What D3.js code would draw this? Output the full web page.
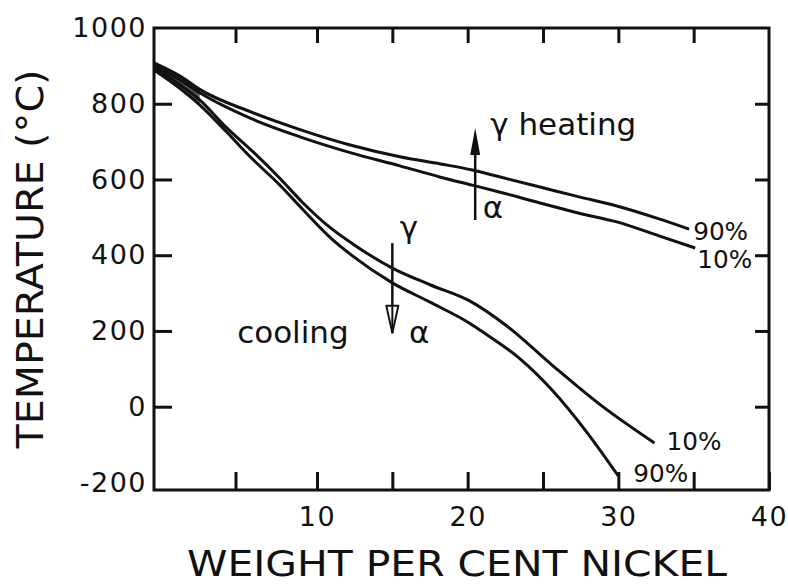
<!DOCTYPE html>
<html>
<head>
<meta charset="utf-8">
<script src="https://cdn.jsdelivr.net/npm/d3@7"></script>
<style>
  body { margin: 0; background: #fff; }
  text { font-family: "DejaVu Sans", sans-serif; fill: #111; }
</style>
</head>
<body>
<svg width="788" height="585"></svg>
<script>
// transformation temperatures of Fe-Ni alloys (10% / 90% transformed)
var heat90X = [0, 1.6, 2.8, 5.9, 9, 12.2, 15.5, 18.2, 20.3, 22.1, 24.8, 27.4, 29.9, 32.7, 34.7];
var heat90T = [908, 873, 838, 779, 731, 691, 660, 641, 625, 607, 580, 554, 530, 496, 469];
var heat10X = [0, 1.6, 2.8, 5.9, 9, 12.2, 15.5, 18.2, 20.3, 22.1, 24.8, 27.4, 29.9, 32.7, 35.1];
var heat10T = [902, 863, 829, 762, 712, 671, 636, 606, 585, 567, 538, 511, 488, 451, 419];
var cool10X = [0, 1.6, 2.8, 4.4, 6.1, 7.7, 9.1, 10.9, 12.4, 15, 17.5, 20.1, 22.6, 25.6, 28.9, 32.4];
var cool10T = [897, 850, 810, 739, 672, 604, 540, 472, 429, 366, 322, 280, 213, 110, 2, -96];
var cool90X = [0, 1.6, 2.8, 4.4, 5.9, 7.7, 9.1, 10.9, 12.4, 15, 17.5, 20.1, 21.2, 23.4, 25.6, 27.9, 30];
var cool90T = [889, 840, 797, 728, 660, 586, 522, 446, 397, 327, 276, 221, 192, 129, 44, -67, -183];

var xTicks = [5, 10, 15, 20, 25, 30, 35, 40];
var yTicks = [-200, 0, 200, 400, 600, 800, 1000];

// arrows: [wt% Ni, start T, tip T]
var heatArrow = [20.5, 493, 736];
var coolArrow = [15, 432, 195];

// notes: [text, wt% Ni, T at baseline]
var notes = [
  ["\u03b3 heating", 21.5, 717],
  ["\u03b1", 21.0, 497],
  ["\u03b3", 15.5, 446],
  ["\u03b1", 16.1, 168],
  ["cooling", 5.1, 168]
];

var svg = d3.select("svg");

// the scan is a little stretched near the origin, so two segments
var x = d3.scaleLinear().domain([0, 10, 40]).range([154, 317, 769]);
var y = d3.scaleLinear().domain([-220, 1000]).range([490, 28]);

function noDomain(g) {
  g.select(".domain").remove();
  g.selectAll("line").attr("stroke", "#111").attr("stroke-width", 3);
  g.selectAll("text").attr("font-size", 27).attr("letter-spacing", 1.5)
    .attr("font-family", "DejaVu Sans").attr("fill", "#111");
}

svg.append("g")
    .attr("transform", "translate(0," + y(-220) + ")")
    .call(d3.axisBottom(x).tickValues(xTicks).tickSize(-18).tickPadding(17)
      .tickFormat(function(d) { return d % 10 === 0 ? d : ""; }))
    .call(noDomain);

svg.append("g")
    .attr("transform", "translate(0," + y(1000) + ")")
    .call(d3.axisTop(x).tickValues(xTicks.slice(0, 7)).tickSize(-15).tickFormat(""))
    .call(noDomain);

var left = svg.append("g")
    .attr("transform", "translate(" + x(0) + ",0)")
    .call(d3.axisLeft(y).tickValues(yTicks).tickSize(-18).tickPadding(7)
      .tickFormat(function(d) { return String(d); }))
    .call(noDomain);
left.selectAll(".tick").filter(function(d) { return d === -200 || d === 1000; })
    .select("line").remove();

svg.append("g")
    .attr("transform", "translate(" + x(40) + ",0)")
    .call(d3.axisRight(y).tickValues([0, 200, 400, 600, 800]).tickSize(-14).tickFormat(""))
    .call(noDomain);

// frame
svg.append("rect")
    .attr("x", x(0)).attr("y", y(1000))
    .attr("width", x(40) - x(0)).attr("height", y(-220) - y(1000))
    .attr("fill", "none").attr("stroke", "#111").attr("stroke-width", 3);

// dark stipple where all four lines meet
var band = d3.range(3).map(function(i) { return [heat90X[i], heat90T[i], cool90T[i]]; });
svg.append("path")
    .datum(band)
    .attr("d", d3.area().x(function(d) { return x(d[0]); })
      .y0(function(d) { return y(d[2]); }).y1(function(d) { return y(d[1]); })
      .curve(d3.curveMonotoneX))
    .attr("fill", "#555");

var line = d3.line()
    .x(function(d) { return x(d[0]); })
    .y(function(d) { return y(d[1]); })
    .curve(d3.curveMonotoneX);

var series = [
  {name: "heat90", pts: d3.zip(heat90X, heat90T), label: "90%", dx: 4, dy: 11},
  {name: "heat10", pts: d3.zip(heat10X, heat10T), label: "10%", dx: 2, dy: 20},
  {name: "cool10", pts: d3.zip(cool10X, cool10T), label: "10%", dx: 12, dy: 7},
  {name: "cool90", pts: d3.zip(cool90X, cool90T), label: "90%", dx: 15, dy: 6}
];

svg.append("g").selectAll("path")
    .data(series)
  .enter().append("path")
    .attr("d", function(d) { return line(d.pts); })
    .attr("fill", "none")
    .attr("stroke", "#111")
    .attr("stroke-width", 3)
    .attr("stroke-linejoin", "round");

svg.append("g").selectAll("text")
    .data(series)
  .enter().append("text")
    .attr("x", function(d) { return x(d.pts[d.pts.length - 1][0]) + d.dx; })
    .attr("y", function(d) { return y(d.pts[d.pts.length - 1][1]) + d.dy; })
    .attr("font-size", 25)
    .attr("textLength", 55)
    .attr("lengthAdjust", "spacingAndGlyphs")
    .text(function(d) { return d.label; });

// heating arrow, solid head
var hx = x(heatArrow[0]), hTip = y(heatArrow[2]);
svg.append("line")
    .attr("x1", hx).attr("x2", hx)
    .attr("y1", y(heatArrow[1])).attr("y2", hTip + 20)
    .attr("stroke", "#111").attr("stroke-width", 2.5);
svg.append("path")
    .attr("d", "M" + hx + "," + hTip + " L" + (hx - 5) + "," + (hTip + 27) +
      " L" + (hx + 5) + "," + (hTip + 27) + " Z")
    .attr("fill", "#111");

// cooling arrow, open head
var cx = x(coolArrow[0]), cTip = y(coolArrow[2]);
svg.append("line")
    .attr("x1", cx).attr("x2", cx)
    .attr("y1", y(coolArrow[1])).attr("y2", cTip)
    .attr("stroke", "#111").attr("stroke-width", 2.5);
svg.append("path")
    .attr("d", "M" + cx + "," + cTip + " L" + (cx - 6) + "," + (cTip - 27) +
      " L" + (cx + 6) + "," + (cTip - 27) + " Z")
    .attr("fill", "#fff").attr("stroke", "#111").attr("stroke-width", 2)
    .attr("stroke-linejoin", "round");
svg.append("line")
    .attr("x1", cx).attr("x2", cx)
    .attr("y1", cTip - 27).attr("y2", cTip)
    .attr("stroke", "#111").attr("stroke-width", 2);

svg.append("g").selectAll("text")
    .data(notes)
  .enter().append("text")
    .attr("x", function(d) { return x(d[1]); })
    .attr("y", function(d) { return y(d[2]); })
    .attr("font-size", 31)
    .text(function(d) { return d[0]; });

// axis titles
svg.append("text")
    .attr("x", 187).attr("y", 576)
    .attr("font-size", 35)
    .attr("textLength", 540)
    .attr("lengthAdjust", "spacingAndGlyphs")
    .text("WEIGHT PER CENT NICKEL");

svg.append("text")
    .attr("transform", "translate(43," + (y(1000) + y(-220)) / 2 + ") rotate(-90)")
    .attr("text-anchor", "middle")
    .attr("font-size", 38)
    .attr("textLength", 379)
    .attr("lengthAdjust", "spacingAndGlyphs")
    .text("TEMPERATURE (\u00b0C)");
</script>
</body>
</html>
